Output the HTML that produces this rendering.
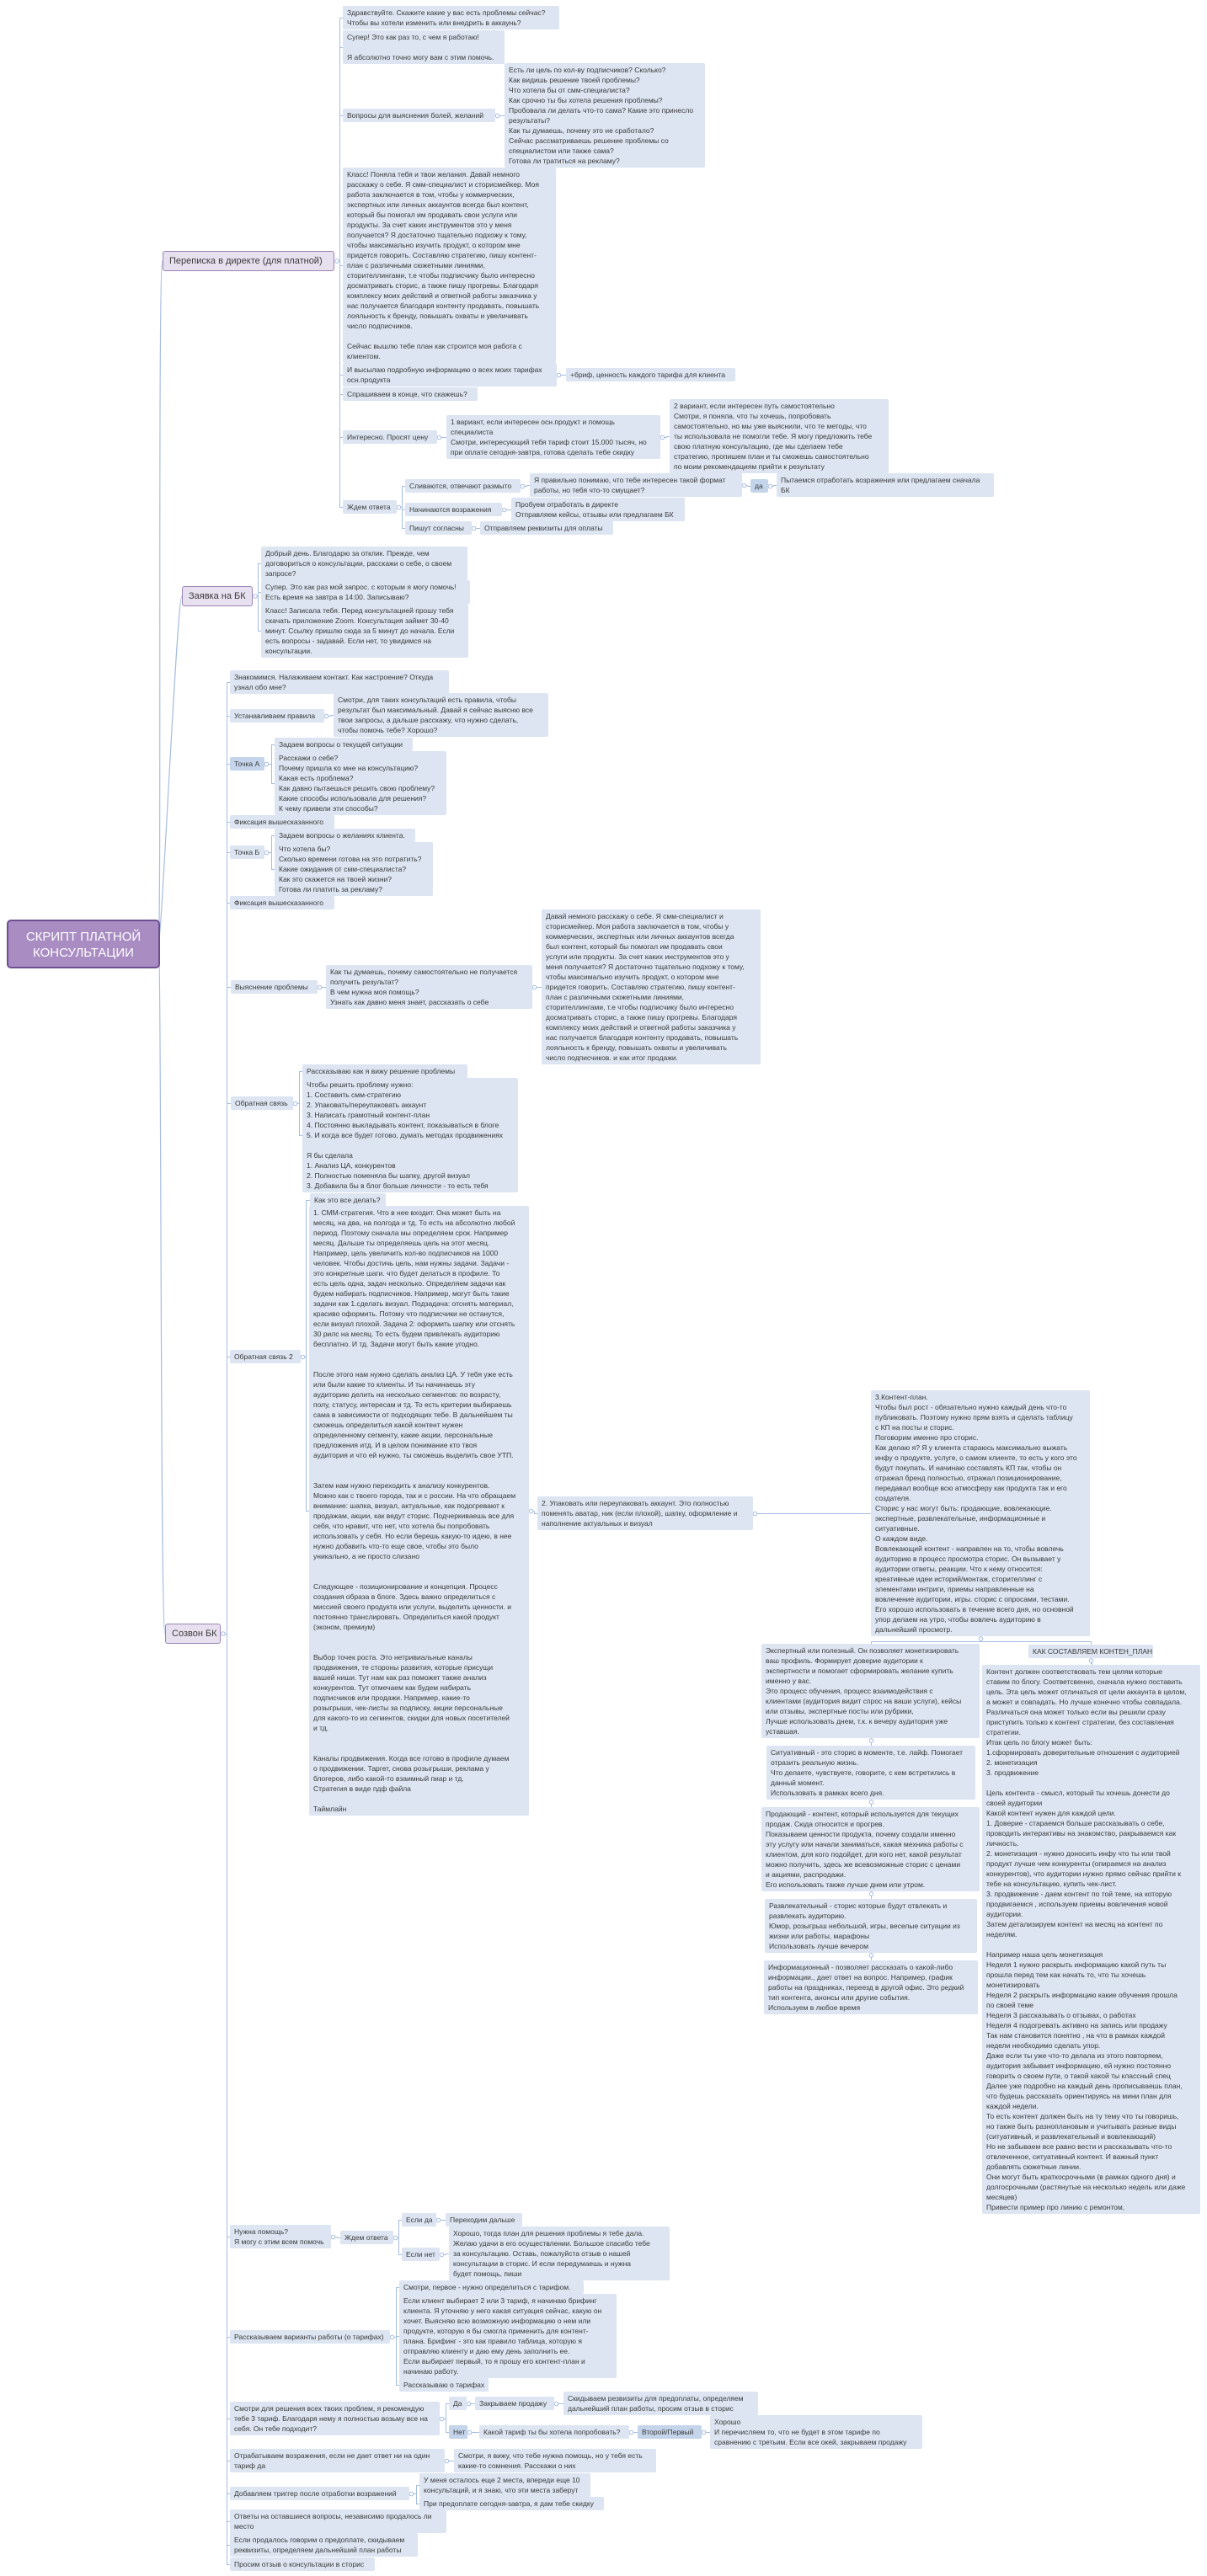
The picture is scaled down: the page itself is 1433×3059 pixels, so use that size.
<!DOCTYPE html>
<html><head><meta charset="utf-8">
<style>
html,body{margin:0;padding:0;background:#fff;}
body{width:1433px;height:3059px;position:relative;overflow:hidden;font-family:"Liberation Sans","DejaVu Sans",sans-serif;}
.n{position:absolute;box-sizing:border-box;background:#dce5f1;color:#3a3a3a;font-size:8.5px;line-height:12px;padding:2px 5px;border-radius:2px;white-space:nowrap;overflow:visible;}
.dk{background:#c4d4ea;}
.l1{position:absolute;box-sizing:border-box;background:#e7e0ef;border:1px solid #9d84b7;color:#3a3a3a;font-size:11px;line-height:14px;padding:4px 7px;border-radius:3px;white-space:nowrap;}
.root{position:absolute;box-sizing:border-box;background:#a88cc2;border:2px solid #6e4f91;color:#fff;font-size:15px;line-height:19px;text-align:center;padding:9px 4px;border-radius:5px;}
svg{position:absolute;left:0;top:0;}
</style></head><body>
<svg id="cv" width="1433" height="3059"></svg>

<div class="root" id="R" style="left:8px;top:1092px;width:182px;height:58px">СКРИПТ ПЛАТНОЙ<br>КОНСУЛЬТАЦИИ</div>

<div class="l1" id="P1" style="left:193px;top:298px;width:204px">Переписка в директе (для платной)</div>
<div class="l1" id="P2" style="left:216px;top:696px;width:84px">Заявка на БК</div>
<div class="l1" id="P3" style="left:196px;top:1928px;width:66px">Созвон БК</div>

<!-- Section A -->
<div class="n" id="a1" style="left:407px;top:7px;width:257px">Здравствуйте. Скажите какие у вас есть проблемы сейчас?<br>Чтобы вы хотели изменить или внедрить в аккаунь?</div>
<div class="n" id="a2" style="left:407px;top:36px;width:192px">Супер! Это как раз то, с чем я работаю!<br><br>Я абсолютно точно могу вам с этим помочь.</div>
<div class="n" id="a3" style="left:407px;top:129px;width:181px">Вопросы для выяснения болей, желаний</div>
<div class="n" id="a3c" style="left:599px;top:75px;width:238px">Есть ли цель по кол-ву подписчиков? Сколько?<br>Как видишь решение твоей проблемы?<br>Что хотела бы от смм-специалиста?<br>Как срочно ты бы хотела решения проблемы?<br>Пробовала ли делать что-то сама? Какие это принесло<br>результаты?<br>Как ты думаешь, почему это не сработало?<br>Сейчас рассматриваешь решение проблемы со<br>специалистом или также сама?<br>Готова ли тратиться на рекламу?</div>
<div class="n" id="a4" style="left:407px;top:199px;width:253px">Класс! Поняла тебя и твои желания. Давай немного<br>расскажу о себе. Я смм-специалист и сторисмейкер. Моя<br>работа заключается в том, чтобы у коммерческих,<br>экспертных или личных аккаунтов всегда был контент,<br>который бы помогал им продавать свои услуги или<br>продукты. За счет каких инструментов это у меня<br>получается? Я достаточно тщательно подхожу к тому,<br>чтобы максимально изучить продукт, о котором мне<br>придется говорить. Составляю стратегию, пишу контент-<br>план с различными сюжетными линиями,<br>сторителлингами, т.е чтобы подписчику было интересно<br>досматривать сторис, а также пишу прогревы. Благодаря<br>комплексу моих действий и ответной работы заказчика у<br>нас получается благодаря контенту продавать, повышать<br>лояльность к бренду, повышать охваты и увеличивать<br>число подписчиков.<br><br>Сейчас вышлю тебе план как строится моя работа с<br>клиентом.</div>
<div class="n" id="a5" style="left:407px;top:431px;width:254px">И высылаю подробную информацию о всех моих тарифах<br>осн.продукта</div>
<div class="n" id="a5c" style="left:672px;top:437px;width:201px">+бриф, ценность каждого тарифа для клиента</div>
<div class="n" id="a6" style="left:407px;top:460px;width:160px">Спрашиваем в конце, что скажешь?</div>
<div class="n" id="a7" style="left:407px;top:511px;width:112px">Интересно. Просят цену</div>
<div class="n" id="a7c" style="left:530px;top:493px;width:254px">1 вариант, если интересен осн.продукт и помощь<br>специалиста<br>Смотри, интересующий тебя тариф стоит 15.000 тысяч, но<br>при оплате сегодня-завтра, готова сделать тебе скидку</div>
<div class="n" id="a7cc" style="left:795px;top:474px;width:260px">2 вариант, если интересен путь самостоятельно<br>Смотри, я поняла, что ты хочешь, попробовать<br>самостоятельно, но мы уже выяснили, что те методы, что<br>ты использовала не помогли тебе. Я могу предложить тебе<br>свою платную консультацию, где мы сделаем тебе<br>стратегию, пропишем план и ты сможешь самостоятельно<br>по моим рекомендациям прийти к результату</div>
<div class="n" id="a8" style="left:407px;top:594px;width:64px">Ждем ответа</div>
<div class="n" id="a8a" style="left:481px;top:569px;width:137px">Сливаются, отвечают размыто</div>
<div class="n" id="a8a1" style="left:629px;top:562px;width:252px">Я правильно понимаю, что тебе интересен такой формат<br>работы, но тебя что-то смущает?</div>
<div class="n dk" id="a8a2" style="left:891px;top:569px;width:21px">да</div>
<div class="n" id="a8a3" style="left:922px;top:562px;width:258px">Пытаемся отработать возражения или предлагаем сначала<br>БК</div>
<div class="n" id="a8b" style="left:481px;top:597px;width:115px">Начинаются возражения</div>
<div class="n" id="a8b1" style="left:607px;top:591px;width:206px">Пробуем отработать в директе<br>Отправляем кейсы, отзывы или предлагаем БК</div>
<div class="n" id="a8c" style="left:481px;top:619px;width:79px">Пишут согласны</div>
<div class="n" id="a8c1" style="left:570px;top:619px;width:158px">Отправляем реквизиты для оплаты</div>

<!-- Section B -->
<div class="n" id="b1" style="left:310px;top:649px;width:245px">Добрый день. Благодарю за отклик. Прежде, чем<br>договориться о консультации, расскажи о себе, о своем<br>запросе?</div>
<div class="n" id="b2" style="left:310px;top:689px;width:248px">Супер. Это как раз мой запрос. с которым я могу помочь!<br>Есть время на завтра в 14:00. Записываю?</div>
<div class="n" id="b3" style="left:310px;top:717px;width:246px">Класс! Записала тебя. Перед консультацией прошу тебя<br>скачать приложение Zoom. Консультация займет 30-40<br>минут. Ссылку пришлю сюда за 5 минут до начала. Если<br>есть вопросы - задавай. Если нет, то увидимся на<br>консультации.</div>

<!-- Section C -->
<div class="n" id="c1" style="left:273px;top:796px;width:260px">Знакомимся. Налаживаем контакт. Как настроение? Откуда<br>узнал обо мне?</div>
<div class="n" id="c2" style="left:273px;top:842px;width:112px">Устанавливаем правила</div>
<div class="n" id="c2a" style="left:396px;top:823px;width:255px">Смотри, для таких консультаций есть правила, чтобы<br>результат был максимальный. Давай я сейчас выясню все<br>твои запросы, а дальше расскажу, что нужно сделать,<br>чтобы помочь тебе? Хорошо?</div>
<div class="n dk" id="c3" style="left:273px;top:899px;width:41px">Точка А</div>
<div class="n" id="c3a" style="left:326px;top:876px;width:164px">Задаем вопросы о текущей ситуации</div>
<div class="n" id="c3b" style="left:326px;top:892px;width:204px">Расскажи о себе?<br>Почему пришла ко мне на консультацию?<br>Какая есть проблема?<br>Как давно пытаешься решить свою проблему?<br>Какие способы использовала для решения?<br>К чему привели эти способы?</div>
<div class="n" id="c4" style="left:273px;top:968px;width:124px">Фиксация вышесказанного</div>
<div class="n" id="c5" style="left:273px;top:1004px;width:41px">Точка Б</div>
<div class="n" id="c5a" style="left:326px;top:984px;width:167px">Задаем вопросы о желаниях клиента.</div>
<div class="n" id="c5b" style="left:326px;top:1000px;width:188px">Что хотела бы?<br>Сколько времени готова на это потратить?<br>Какие ожидания от смм-специалиста?<br>Как это скажется на твоей жизни?<br>Готова ли платить за рекламу?</div>
<div class="n" id="c6" style="left:273px;top:1064px;width:124px">Фиксация вышесказанного</div>
<div class="n" id="c7" style="left:274px;top:1164px;width:103px">Выяснение проблемы</div>
<div class="n" id="c7a" style="left:387px;top:1146px;width:245px">Как ты думаешь, почему самостоятельно не получается<br>получить результат?<br>В чем нужна моя помощь?<br>Узнать как давно меня знает, рассказать о себе</div>
<div class="n" id="c7b" style="left:643px;top:1080px;width:260px">Давай немного расскажу о себе. Я смм-специалист и<br>сторисмейкер. Моя работа заключается в том, чтобы у<br>коммерческих, экспертных или личных аккаунтов всегда<br>был контент, который бы помогал им продавать свои<br>услуги или продукты. За счет каких инструментов это у<br>меня получается? Я достаточно тщательно подхожу к тому,<br>чтобы максимально изучить продукт, о котором мне<br>придется говорить. Составляю стратегию, пишу контент-<br>план с различными сюжетными линиями,<br>сторителлингами, т.е чтобы подписчику было интересно<br>досматривать сторис, а также пишу прогревы. Благодаря<br>комплексу моих действий и ответной работы заказчика у<br>нас получается благодаря контенту продавать, повышать<br>лояльность к бренду, повышать охваты и увеличивать<br>число подписчиков. и как итог продажи.</div>
<div class="n" id="c8" style="left:274px;top:1302px;width:74px">Обратная связь</div>
<div class="n" id="c8a" style="left:359px;top:1264px;width:196px">Рассказываю как я вижу решение проблемы</div>
<div class="n" id="c8b" style="left:359px;top:1280px;width:256px">Чтобы решить проблему нужно:<br>1. Составить смм-стратегию<br>2. Упаковать/переупаковать аккаунт<br>3. Написать грамотный контент-план<br>4. Постоянно выкладывать контент, показываться в блоге<br>5. И когда все будет готово, думать методах продвижениях<br><br>Я бы сделала<br>1. Анализ ЦА, конкурентов<br>2. Полностью поменяла бы шапку, другой визуал<br>3. Добавила бы в блог больше личности - то есть тебя</div>
<div class="n" id="c9" style="left:273px;top:1603px;width:84px">Обратная связь 2</div>
<div class="n" id="c9a" style="left:368px;top:1417px;width:90px">Как это все делать?</div>
<div class="n" id="c9b" style="left:367px;top:1432px;width:261px">1. СММ-стратегия. Что в нее входит. Она может быть на<br>месяц, на два, на полгода и тд. То есть на абсолютно любой<br>период. Поэтому сначала мы определяем срок. Например<br>месяц. Дальше ты определяешь цель на этот месяц.<br>Например, цель увеличить кол-во подписчиков на 1000<br>человек. Чтобы достичь цель, нам нужны задачи. Задачи -<br>это конкретные шаги. что будет делаться в профиле. То<br>есть цель одна, задач несколько. Определяем задачи как<br>будем набирать подписчиков. Например, могут быть такие<br>задачи как 1.сделать визуал. Подзадача: отснять материал,<br>красиво оформить. Потому что подписчики не останутся,<br>если визуал плохой. Задача 2: оформить шапку или отснять<br>30 рилс на месяц. То есть будем привлекать аудиторию<br>бесплатно. И тд. Задачи могут быть какие угодно.<br><br><br>После этого нам нужно сделать анализ ЦА. У тебя уже есть<br>или были какие то клиенты. И ты начинаешь эту<br>аудиторию делить на несколько сегментов: по возрасту,<br>полу, статусу, интересам и тд. То есть критерии выбираешь<br>сама в зависимости от подходящих тебе. В дальнейшем ты<br>сможешь определиться какой контент нужен<br>определенному сегменту, какие акции, персональные<br>предложения итд. И в целом понимание кто твоя<br>аудитория и что ей нужно, ты сможешь выделить свое УТП.<br><br><br>Затем нам нужно переходить к анализу конкурентов.<br>Можно как с твоего города, так и с россии. На что обращаем<br>внимание: шапка, визуал, актуальные, как подогревают к<br>продажам, акции, как ведут сторис. Подчеркиваешь все для<br>себя, что нравит, что нет, что хотела бы попробовать<br>использовать у себя. Но если берешь какую-то идею, в нее<br>нужно добавить что-то еще свое, чтобы это было<br>уникально, а не просто слизано<br><br><br>Следующее - позиционирование и концепция. Процесс<br>создания образа в блоге. Здесь важно определиться с<br>миссией своего продукта или услуги, выделить ценности. и<br>постоянно транслировать. Определиться какой продукт<br>(эконом, премиум)<br><br><br>Выбор точек роста. Это нетривиальные каналы<br>продвижения, те стороны развития, которые присущи<br>вашей ниши. Тут нам как раз поможет также анализ<br>конкурентов. Тут отмечаем как будем набирать<br>подписчиков или продажи. Например, какие-то<br>розыгрыши, чек-листы за подписку, акции персональные<br>для какого-то из сегментов, скидки для новых посетителей<br>и тд.<br><br><br>Каналы продвижения. Когда все готово в профиле думаем<br>о продвижении. Таргет, снова розыгрыши, реклама у<br>блогеров, либо какой-то взаимный пиар и тд.<br>Стратегия в виде пдф файла<br><br>Таймлайн</div>
<div class="n" id="d1" style="left:638px;top:1777px;width:256px">2. Упаковать или переупаковать аккаунт. Это полностью<br>поменять аватар, ник (если плохой), шапку, оформление и<br>наполнение актуальных и визуал</div>
<div class="n" id="d2" style="left:1034px;top:1651px;width:260px">3.Контент-план.<br>Чтобы был рост - обязательно нужно каждый день что-то<br>публиковать. Поэтому нужно прям взять и сделать таблицу<br>с КП на посты и сторис.<br>Поговорим именно про сторис.<br>Как делаю я? Я у клиента стараюсь максимально выжать<br>инфу о продукте, услуге, о самом клиенте, то есть у кого это<br>будут покупать. И начинаю составлять КП так, чтобы он<br>отражал бренд полностью, отражал позиционирование,<br>передавал вообще всю атмосферу как продукта так и его<br>создателя.<br>Сторис у нас могут быть: продающие, вовлекающие.<br>экспертные, развлекательные, информационные и<br>ситуативные.<br>О каждом виде.<br>Вовлекающий контент - направлен на то, чтобы вовлечь<br>аудиторию в процесс просмотра сторис. Он вызывает у<br>аудитории ответы, реакции. Что к нему относится:<br>креативные идеи историй/монтаж, сторителлинг с<br>элементами интриги, приемы направленные на<br>вовлечение аудитории, игры. сторис с опросами, тестами.<br>Его хорошо использовать в течение всего дня, но основной<br>упор делаем на утро, чтобы вовлечь аудиторию в<br>дальнейший просмотр.</div>
<div class="n" id="e1" style="left:904px;top:1952px;width:259px">Экспертный или полезный. Он позволяет монетизировать<br>ваш профиль. Формирует доверие аудитории к<br>экспертности и помогает сформировать желание купить<br>именно у вас.<br>Это процесс обучения, процесс взаимодействия с<br>клиентами (аудитория видит спрос на ваши услуги), кейсы<br>или отзывы, экспертные посты или рубрики,<br>Лучше использовать днем, т.к. к вечеру аудитория уже<br>уставшая.</div>
<div class="n" id="e2" style="left:910px;top:2073px;width:248px">Ситуативный - это сторис в моменте, т.е. лайф. Помогает<br>отразить реальную жизнь.<br>Что делаете, чувствуете, говорите, с кем встретились в<br>данный момент.<br>Использовать в рамках всего дня.</div>
<div class="n" id="e3" style="left:904px;top:2146px;width:259px">Продающий - контент, который используется для текущих<br>продаж. Сюда относится и прогрев.<br>Показываем ценности продукта, почему создали именно<br>эту услугу или начали заниматься, какая мехника работы с<br>клиентом, для кого подойдет, для кого нет, какой результат<br>можно получить, здесь же всевозможные сторис с ценами<br>и акциями, распродажи.<br>Его использовать также лучше днем или утром.</div>
<div class="n" id="e4" style="left:908px;top:2255px;width:252px">Развлекательный - сторис которые будут отвлекать и<br>развлекать аудиторию.<br>Юмор, розыгрыш небольшой, игры, веселые ситуации из<br>жизни или работы, марафоны<br>Использовать лучше вечером</div>
<div class="n" id="e5" style="left:907px;top:2328px;width:254px">Информационный - позволяет рассказать о какой-либо<br>информации., дает ответ на вопрос. Например, график<br>работы на праздниках, переезд в другой офис. Это редкий<br>тип контента, анонсы или другие события.<br>Используем в любое время</div>
<div class="n" id="k1" style="left:1221px;top:1953px;width:148px">КАК СОСТАВЛЯЕМ КОНТЕН_ПЛАН</div>
<div class="n" id="k2" style="left:1166px;top:1977px;width:259px">Контент должен соответствовать тем целям которые<br>ставим по блогу. Соответсвенно, сначала нужно поставить<br>цель. Эта цель может отличаться от цели аккаунта в целом,<br>а может и совпадать. Но лучше конечно чтобы совпадала.<br>Различаться она может только если вы решили сразу<br>приступить только к контент стратегии, без составления<br>стратегии.<br>Итак цель по блогу может быть:<br>1.сформировать доверительные отношения с аудиторией<br>2. монетизация<br>3. продвижение<br><br>Цель контента - смысл, который ты хочешь донести до<br>своей аудитории<br>Какой контент нужен для каждой цели.<br>1. Доверие - стараемся больше рассказывать о себе,<br>проводить интерактивы на знакомство, ракрываемся как<br>личность.<br>2. монетизация - нужно доносить инфу что ты или твой<br>продукт лучше чем конкуренты (опираемся на анализ<br>конкурентов), что аудитории нужно прямо сейчас прийти к<br>тебе на консультацию, купить чек-лист.<br>3. продвижение - даем контент по той теме, на которую<br>продвигаемся , используем приемы вовлечения новой<br>аудитории.<br>Затем детализируем контент на месяц на контент по<br>неделям.<br><br>Например наша цель монетизация<br>Неделя 1 нужно раскрыть информацию какой путь ты<br>прошла перед тем как начать то, что ты хочешь<br>монетизировать<br>Неделя 2 раскрыть информацию какие обучения прошла<br>по своей теме<br>Неделя 3 рассказывать о отзывах, о работах<br>Неделя 4 подогревать активно на запись или продажу<br>Так нам становится понятно , на что в рамках каждой<br>недели необходимо сделать упор.<br>Даже если ты уже что-то делала из этого повторяем,<br>аудитория забывает информацию, ей нужно постоянно<br>говорить о своем пути, о такой какой ты классный спец<br>Далее уже подробно на каждый день прописываешь план,<br>что будешь рассказать ориентируясь на мини план для<br>каждой недели.<br>То есть контент должен быть на ту тему что ты говоришь,<br>но также быть разноплановым и учитывать разные виды<br>(ситуативный, и развлекательный и вовлекающий)<br>Но не забываем все равно вести и рассказывать что-то<br>отвлеченное, ситуативный контент. И важный пункт<br>добавлять сюжетные линии.<br>Они могут быть краткосрочными (в рамках одного дня) и<br>долгосрочными (растянутые на несколько недель или даже<br>месяцев)<br>Привести пример про линию с ремонтом,</div>

<div class="n" id="c10" style="left:273px;top:2642px;width:120px">Нужна помощь?<br>Я могу с этим всем помочь</div>
<div class="n" id="c10a" style="left:404px;top:2649px;width:63px">Ждем ответа</div>
<div class="n" id="c10b" style="left:477px;top:2628px;width:41px">Если да</div>
<div class="n" id="c10b1" style="left:529px;top:2628px;width:91px">Переходим дальше</div>
<div class="n" id="c10c" style="left:477px;top:2669px;width:45px">Если нет</div>
<div class="n" id="c10c1" style="left:533px;top:2644px;width:262px">Хорошо, тогда план для решения проблемы я тебе дала.<br>Желаю удачи в его осуществлении. Большое спасибо тебе<br>за консультацию. Оставь, пожалуйста отзыв о нашей<br>консультации в сторис. И если передумаешь и нужна<br>будет помощь, пиши</div>
<div class="n" id="c11" style="left:273px;top:2767px;width:190px">Рассказываем варианты работы (о тарифах)</div>
<div class="n" id="c11a" style="left:474px;top:2708px;width:219px">Смотри, первое - нужно определиться с тарифом.</div>
<div class="n" id="c11b" style="left:474px;top:2724px;width:258px">Если клиент выбирает 2 или 3 тариф, я начинаю брифинг<br>клиента. Я уточняю у него какая ситуация сейчас, какую он<br>хочет. Выясняю всю возможную информацию о нем или<br>продукте, которую я бы смогла применить для контент-<br>плана. Брифинг - это как правило таблица, которую я<br>отправляю клиенту и даю ему день заполнить ее.<br>Если выбирает первый, то я прошу его контент-план и<br>начинаю работу.</div>
<div class="n" id="c11c" style="left:474px;top:2824px;width:106px">Рассказываю о тарифах</div>
<div class="n" id="c12" style="left:273px;top:2852px;width:249px">Смотри для решения всех твоих проблем, я рекомендую<br>тебе 3 тариф. Благодаря нему я полностью возьму все на<br>себя. Он тебе подходит?</div>
<div class="n" id="y1" style="left:533px;top:2846px;width:21px">Да</div>
<div class="n" id="y2" style="left:564px;top:2846px;width:94px">Закрываем продажу</div>
<div class="n" id="y3" style="left:669px;top:2840px;width:231px">Скидываем резвизиты для предоплаты, определяем<br>дальнейший план работы, просим отзыв в сторис</div>
<div class="n dk" id="n1" style="left:533px;top:2880px;width:22px">Нет</div>
<div class="n" id="n2" style="left:569px;top:2880px;width:178px">Какой тариф ты бы хотела попробовать?</div>
<div class="n dk" id="n3" style="left:757px;top:2880px;width:76px">Второй/Первый</div>
<div class="n" id="n4" style="left:843px;top:2868px;width:252px">Хорошо<br>И перечисляем то, что не будет в этом тарифе по<br>сравнению с третьим. Если все окей, закрываем продажу</div>
<div class="n" id="c13" style="left:273px;top:2908px;width:255px">Отрабатываем возражения, если не дает ответ ни на один<br>тариф да</div>
<div class="n" id="c13a" style="left:539px;top:2908px;width:240px">Смотри, я вижу, что тебе нужна помощь, но у тебя есть<br>какие-то сомнения. Расскажи о них</div>
<div class="n" id="c14" style="left:273px;top:2953px;width:213px">Добавляем триггер после отработки возражений</div>
<div class="n" id="c14a" style="left:498px;top:2937px;width:203px">У меня осталось еще 2 места, впереди еще 10<br>консультаций, и я знаю, что эти места заберут</div>
<div class="n" id="c14b" style="left:498px;top:2965px;width:219px">При предоплате сегодня-завтра, я дам тебе скидку</div>
<div class="n" id="c15" style="left:273px;top:2980px;width:257px">Ответы на оставшиеся вопросы, независимо продалось ли<br>место</div>
<div class="n" id="c16" style="left:273px;top:3008px;width:223px">Если продалось говорим о предоплате, скидываем<br>реквизиты, определяем дальнейший план работы</div>
<div class="n" id="c17" style="left:273px;top:3037px;width:172px">Просим отзыв о консультации в сторис</div>

<script>
(function(){
var R={
P1:['a1','a2','a3','a4','a5','a6','a7','a8'],a3:['a3c'],a5:['a5c'],a7:['a7c'],a7c:['a7cc'],
a8:['a8a','a8b','a8c'],a8a:['a8a1'],a8a1:['a8a2'],a8a2:['a8a3'],a8b:['a8b1'],a8c:['a8c1'],
P2:['b1','b2','b3'],
P3:['c1','c2','c3','c4','c5','c6','c7','c8','c9','c10','c11','c12','c13','c14','c15','c16','c17'],
c2:['c2a'],c3:['c3a','c3b'],c5:['c5a','c5b'],c7:['c7a'],c7a:['c7b'],c8:['c8a','c8b'],c9:['c9a','c9b'],
c9b:['d1'],d1:['d2'],c10:['c10a'],c10a:['c10b','c10c'],c10b:['c10b1'],c10c:['c10c1'],
c11:['c11a','c11b','c11c'],c12:['y1','n1'],y1:['y2'],y2:['y3'],n1:['n2'],n2:['n3'],n3:['n4'],
c13:['c13a'],c14:['c14a','c14b']};
var D={d2:['e1','k1'],e1:['e2'],e2:['e3'],e3:['e4'],e4:['e5'],k1:['k2']};
var col='#a7bde0',s='';
function r(id){var e=document.getElementById(id);return {l:e.offsetLeft,t:e.offsetTop,w:e.offsetWidth,h:e.offsetHeight};}
function circ(x,y){s+='<circle cx="'+x+'" cy="'+y+'" r="2.3" fill="#fff" stroke="'+col+'" stroke-width="1"/>';}
for(var p in R){var P=r(p),py=Math.round(P.t+P.h/2)+0.5,px=P.l+P.w;var ch=R[p].map(r);
 var sx=Math.min.apply(null,ch.map(function(c){return c.l;}))-3.5;
 var d='M'+(px+5)+' '+py+' H'+sx;
 ch.forEach(function(c){var cy=Math.round(c.t+c.h/2)+0.5;d+=' M'+sx+' '+py+' V'+cy+' H'+c.l;});
 s+='<path d="'+d+'" fill="none" stroke="'+col+'" stroke-width="1"/>';
 if(p.charAt(0)!='P')circ(px+2.5,py);}
for(var p in D){var P=r(p),pb=P.t+P.h,pc=Math.round(P.l+P.w/2)+0.5;var ch=D[p].map(r);
 var my=pb+6.5,d='';
 ch.forEach(function(c){var cc=Math.round(c.l+c.w/2)+0.5;d+=' M'+pc+' '+pb+' V'+my+' H'+cc+' V'+c.t;});
 s+='<path d="'+d+'" fill="none" stroke="'+col+'" stroke-width="1"/>';circ(pc,pb+3);}
var RT=r('R'),rx=RT.l+RT.w,ry=RT.t+RT.h/2;
['P1','P2','P3'].forEach(function(id){var c=r(id),cy=c.t+c.h/2;
 s+='<path d="M'+(rx-2)+' '+ry+' C'+(rx+2)+' '+ry+' '+(c.l-6)+' '+cy+' '+c.l+' '+cy+'" fill="none" stroke="'+col+'" stroke-width="1.2"/>';
 var q=r(id);circ(q.l+q.w+3,cy);});
document.getElementById('cv').innerHTML=s;
})();
</script>
</body></html>
